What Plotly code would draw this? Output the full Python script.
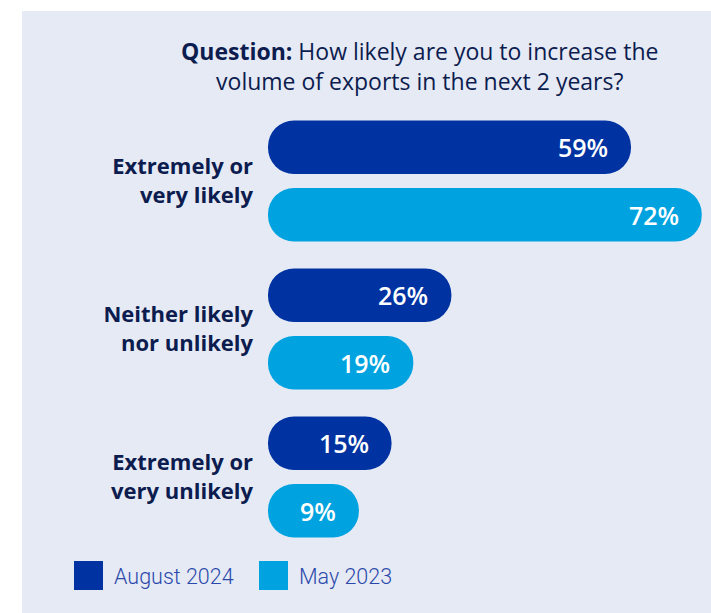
import plotly.graph_objects as go

# --- data -------------------------------------------------------------
categories = [
    "Extremely or<br>very likely",
    "Neither likely<br>nor unlikely",
    "Extremely or<br>very unlikely",
]
series_names = ["August 2024", "May 2023"]
aug_2024 = [59, 26, 15]
may_2023 = [72, 19, 9]
series_values = [aug_2024, may_2023]
series_colors = ["#0033a1", "#00a3e0"]

title_bold = "Question:"
title_rest = "How likely are you to increase the<br>volume of exports in the next 2 years?"

# --- geometry ---------------------------------------------------------
W, H = 711, 613
M_L, M_R, M_T, M_B = 268, 0, 107, 62
PW, PH = W - M_L - M_R, H - M_T - M_B
PAD = 7.7              # bars start a little left of zero, giving every bar a lead-in
X_MAX = 73.7
SLOT = 67.5            # pixel distance between the two bars of a group

NAVY = "#0c1c4f"
LEGEND_BLUE = "#2a48aa"
PANEL = "#e6eaf5"


def px_x(px):
    return (px - M_L) / PW


def px_y(py):
    return (H - M_B - py) / PH


fig = go.Figure()
for name, vals, color in zip(series_names, series_values, series_colors):
    fig.add_trace(go.Bar(
        name=name,
        y=categories,
        x=[v + PAD for v in vals],
        base=-PAD,
        orientation="h",
        marker=dict(color=color, line=dict(width=0)),
        customdata=vals,
        hovertemplate="%{customdata}%<extra>" + name + "</extra>",
        showlegend=False,
    ))

# value labels at the end of each bar
for i, vals in enumerate(series_values):
    shift = SLOT / 2 if i == 0 else -SLOT / 2
    for cat, v in zip(categories, vals):
        fig.add_annotation(
            x=v, y=cat, xref="x", yref="y",
            text=f"{v}%", showarrow=False,
            xanchor="right", yanchor="middle",
            xshift=-21, yshift=shift,
            font=dict(family="Open Sans", size=25, color="white", weight=600),
        )

# title
fig.add_annotation(
    x=px_x(419), y=px_y(66), xref="paper", yref="paper",
    text=f"<b>{title_bold}</b> {title_rest}",
    showarrow=False, xanchor="center", yanchor="middle", align="center",
    font=dict(family="Open Sans", size=23, color=NAVY),
)

# legend: colour squares with their names
legend_x = [74, 259]
for lx, name, color in zip(legend_x, series_names, series_colors):
    fig.add_shape(
        type="rect", xref="paper", yref="paper",
        x0=px_x(lx), x1=px_x(lx + 29), y0=px_y(590), y1=px_y(561),
        fillcolor=color, line=dict(width=0),
    )
    fig.add_annotation(
        x=px_x(lx + 38), y=px_y(576), xref="paper", yref="paper",
        text=name, showarrow=False, xanchor="left", yanchor="middle",
        font=dict(family="Roboto", size=21.5, color=LEGEND_BLUE, weight=300),
    )

# background panel
fig.add_shape(
    type="rect", xref="paper", yref="paper", layer="below",
    x0=px_x(22), x1=px_x(W), y0=px_y(H), y1=px_y(11),
    fillcolor=PANEL, line=dict(width=0),
)

fig.update_layout(
    width=W, height=H,
    margin=dict(l=M_L, r=M_R, t=M_T, b=M_B, pad=0),
    paper_bgcolor="white",
    plot_bgcolor="rgba(0,0,0,0)",
    barmode="group",
    bargap=0.088,
    bargroupgap=0.207,
    barcornerradius=27,
    showlegend=False,
    xaxis=dict(range=[-PAD, X_MAX], visible=False, fixedrange=True),
    yaxis=dict(
        autorange="reversed",
        showgrid=False, zeroline=False, showline=False, ticks="",
        ticklabelstandoff=14,
        tickfont=dict(family="Open Sans", size=22, color=NAVY, weight=700),
        fixedrange=True,
    ),
)

fig.write_html("out.html", config={"displayModeBar": False})
